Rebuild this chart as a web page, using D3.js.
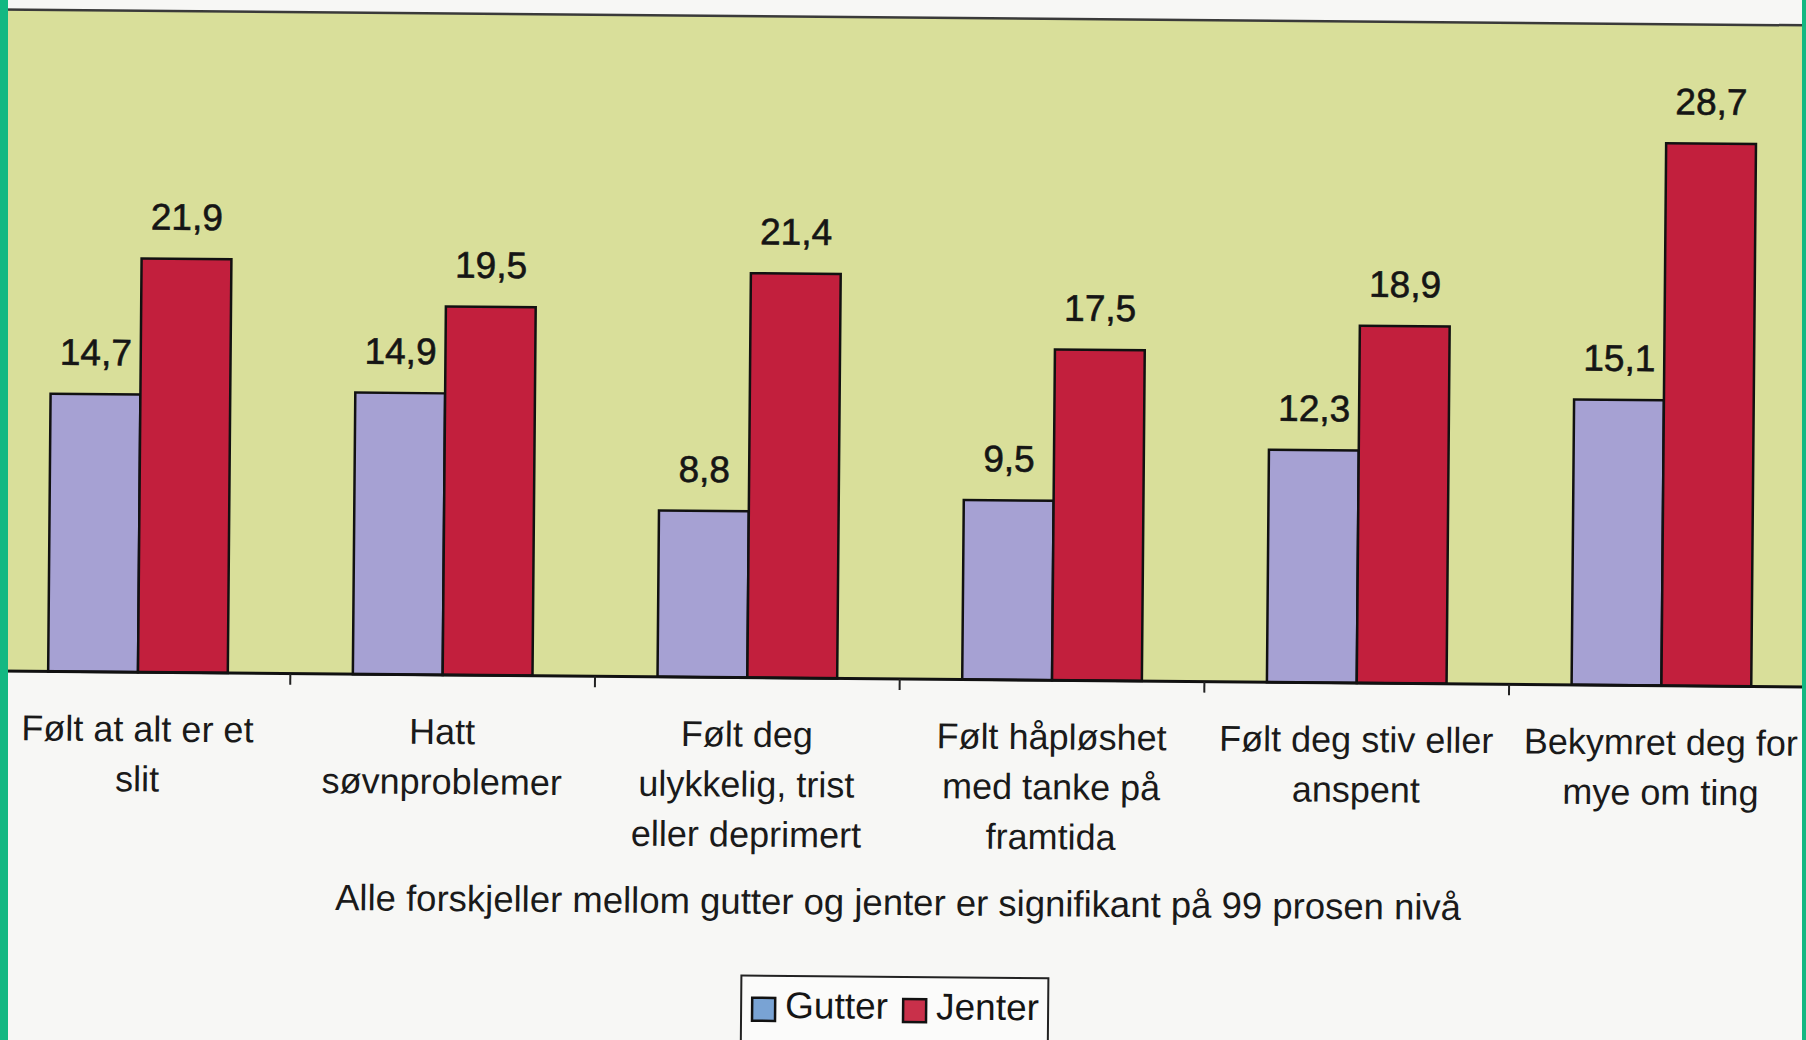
<!DOCTYPE html>
<html><head><meta charset="utf-8">
<script src="https://cdn.jsdelivr.net/npm/d3@7"></script>
<style>
html,body{margin:0;padding:0;background:#f7f7f5;overflow:hidden;}
svg{display:block;}
text{font-family:"Liberation Sans",Arial,sans-serif;}
</style></head>
<body><svg id="c" width="1806" height="1040"></svg>
<script>
const categories = [
  ["Følt at alt er et","slit"],
  ["Hatt","søvnproblemer"],
  ["Følt deg","ulykkelig, trist","eller deprimert"],
  ["Følt håpløshet","med tanke på","framtida"],
  ["Følt deg stiv eller","anspent"],
  ["Bekymret deg for","mye om ting"]
];
const seriesNames = ["Gutter","Jenter"];
const gutter = [14.7,14.9,8.8,9.5,12.3,15.1];
const jenter = [21.9,19.5,21.4,17.5,18.9,28.7];
const footnote = "Alle forskjeller mellom gutter og jenter er signifikant på 99 prosen nivå";

const W=1806,H=1040;
const svg=d3.select("#c");
svg.append("rect").attr("width",W).attr("height",H).attr("fill","#f7f7f5");

const g=svg.append("g").attr("transform","rotate(0.5,903,679)");

const plotTop=17.5, base=679;
const catKeys=categories.map((c,i)=>i);
const x0=d3.scaleBand().domain(catKeys).range([-14.4,-14.4+6*304.7]).padding(0);
const x1=d3.scaleBand().domain(seriesNames).range([0,x0.bandwidth()]).paddingInner(0).paddingOuter(0.696);
const y=d3.scaleLinear().domain([0,35]).range([base,plotTop]);
const colors={Gutter:"#a6a1d3",Jenter:"#c21f3d"};
const values={Gutter:gutter,Jenter:jenter};

// plot area
g.append("rect").attr("x",-40).attr("y",plotTop).attr("width",1900).attr("height",base-plotTop).attr("fill","#d9df9a");
g.append("line").attr("x1",-40).attr("x2",1860).attr("y1",plotTop).attr("y2",plotTop).attr("stroke","#3a3a3a").attr("stroke-width",2.5);

// bars
const groups=g.selectAll("g.grp").data(catKeys).join("g").attr("class","grp")
  .attr("transform",d=>`translate(${x0(d)},0)`);
seriesNames.forEach(s=>{
  groups.append("rect")
    .attr("x",x1(s)).attr("width",x1.bandwidth())
    .attr("y",d=>y(values[s][d])).attr("height",d=>base-y(values[s][d]))
    .attr("fill",colors[s]).attr("stroke","#111").attr("stroke-width",2.5);
  groups.append("text")
    .attr("x",x1(s)+x1.bandwidth()/2)
    .attr("y",d=>y(values[s][d])-29)
    .attr("text-anchor","middle").attr("font-size",37).attr("fill","#151515")
    .attr("stroke","#151515").attr("stroke-width",0.6)
    .text(d=>values[s][d].toFixed(1).replace(".",","));
});

// baseline + ticks
g.append("line").attr("x1",-40).attr("x2",1860).attr("y1",base).attr("y2",base).attr("stroke","#111").attr("stroke-width",3);
g.selectAll("line.tick").data(catKeys.slice(1)).join("line").attr("class","tick")
  .attr("x1",d=>x0(d)).attr("x2",d=>x0(d)).attr("y1",base).attr("y2",base+11)
  .attr("stroke","#222").attr("stroke-width",2);

// category labels
const lab=g.selectAll("text.cat").data(catKeys).join("text").attr("class","cat")
  .attr("text-anchor","middle").attr("font-size",36).attr("fill","#1a1a1a");
lab.each(function(d){
  const t=d3.select(this);
  categories[d].forEach((line,i)=>{
    t.append("tspan").attr("x",x0(d)+x0.bandwidth()/2).attr("y",base+69+i*50).text(line);
  });
});

// footnote
g.append("text").attr("x",900).attr("y",915).attr("text-anchor","middle")
  .attr("font-size",36.5).attr("fill","#1a1a1a").text(footnote);

// legend
const lg=g.append("g").attr("transform","translate(2,1)");
lg.append("rect").attr("x",742).attr("y",976).attr("width",307).attr("height",120)
  .attr("fill","#fbfbfa").attr("stroke","#222").attr("stroke-width",2);
const legX={Gutter:753,Jenter:904};
const swatch={Gutter:"#79a3d4",Jenter:"#c9304a"};
seriesNames.forEach(s=>{
  lg.append("rect").attr("x",legX[s]).attr("y",998).attr("width",23).attr("height",23)
    .attr("fill",swatch[s]).attr("stroke","#111").attr("stroke-width",2.5);
  lg.append("text").attr("x",legX[s]+33).attr("y",1018).attr("font-size",37).attr("fill","#151515").text(s);
});

// green frame edges
svg.append("rect").attr("x",0).attr("y",0).attr("width",8).attr("height",H).attr("fill","#13b882");
svg.append("rect").attr("x",1802).attr("y",0).attr("width",4).attr("height",H).attr("fill","#13b882");
</script></body></html>
